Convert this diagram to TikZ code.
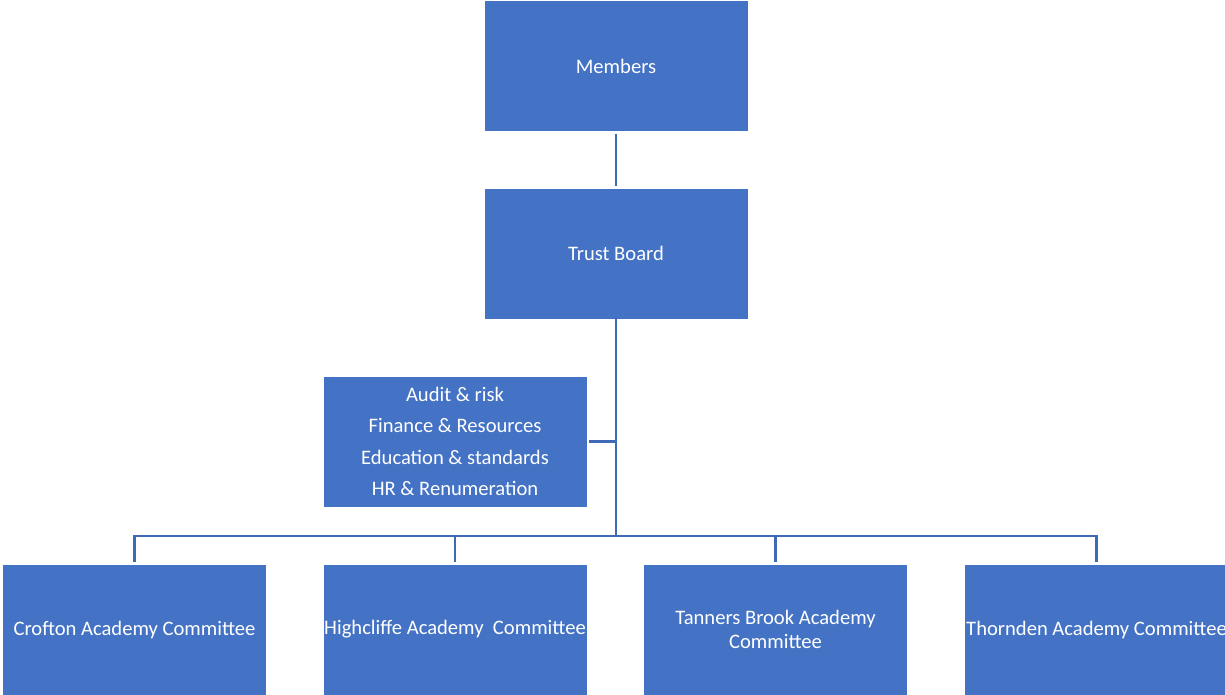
\documentclass[tikz,border=0pt]{standalone}
\usepackage{fontspec}
\setmainfont{Carlito}
\definecolor{boxblue}{HTML}{4472C4}
\definecolor{lineblue}{HTML}{3F68B5}
\tikzset{
  orgbox/.style={fill=boxblue, draw=boxblue, text=white, inner sep=0pt,
    minimum width=262pt, minimum height=129pt, align=center,
    font=\fontsize{20.6}{23.5}\selectfont},
  link/.style={draw=lineblue, line width=2.4pt, shorten <=3pt}
}
\begin{document}
\begin{tikzpicture}[x=1pt,y=-1pt]
\useasboundingbox (0,0) rectangle (1225,694);
\node[orgbox] (members) at (616,66) {Members};
\node[orgbox] (trust) at (616,253.5) {Trust Board};
\node[orgbox, font=\fontsize{20.6}{31.3}\selectfont] (audit) at (455,441.5)
  {Audit \& risk\\Finance \& Resources\\Education \& standards\\HR \& Renumeration};
\node[orgbox] (crofton) at (134.5,629.5) {\raisebox{-1.5pt}{Crofton Academy Committee}};
\node[orgbox] (highcliffe) at (455,629.5) {\raisebox{-1.5pt}{Highcliffe Academy\ \ Committee}};
\node[orgbox] (tanners) at (775.5,629.5) {Tanners Brook Academy\\Committee};
\node[orgbox] (thornden) at (1096.5,629.5) {\raisebox{-1.5pt}{Thornden Academy Committee}};
\coordinate (bus) at (616,536);
\draw[link, shorten >=3pt] (members.south) -- (trust.north);
\draw[link, shorten <=0pt] (trust.south) -- (bus);
\draw[link] (audit.east) -- (audit.east -| bus);
\draw[link] (crofton.north) |- (bus);
\draw[link] (thornden.north) |- (bus);
\draw[link] (highcliffe.north) -- (highcliffe.north |- bus);
\draw[link] (tanners.north) -- (tanners.north |- bus);
\end{tikzpicture}
\end{document}
